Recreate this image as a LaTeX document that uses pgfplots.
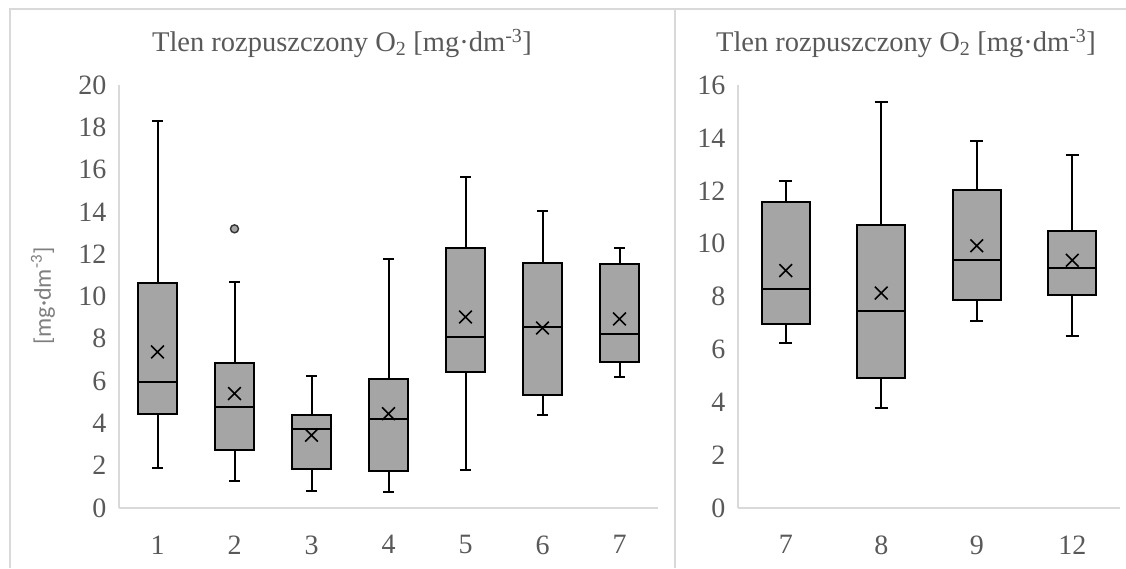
\documentclass[border=0pt]{standalone}
\usepackage{pgfplots}
\pgfplotsset{compat=1.18}
\usepgfplotslibrary{statistics}
\usepackage{fontspec}
\setmainfont{Liberation Serif}
\newfontfamily\labfont{Carlito}
\definecolor{boxgray}{HTML}{A5A5A5}
\definecolor{axisgray}{HTML}{D9D9D9}
\definecolor{txtgray}{HTML}{595959}
\definecolor{labgray}{HTML}{7F7F7F}
\pgfplotsset{
  myaxis/.style={
    scale only axis,
    anchor=south west,
    height=423pt,
    boxplot/draw direction=y,
    axis x line*=bottom,
    axis y line*=left,
    axis line style={draw=axisgray, line width=1.2pt, -},
    major tick length=0pt,
    /pgf/number format/assume math mode=true,
    ticklabel style={font=\fontsize{28}{28}\selectfont, text=txtgray},
    yticklabel style={xshift=-9pt},
    xticklabel style={yshift=-24pt},
    clip=false,
  },
  bx/.style={boxplot prepared={draw position=#1, box extend=0.5, whisker extend=0.14},
    draw=black, fill=boxgray, line width=2pt, solid},
  meanx/.style={only marks, mark=x, mark size=9pt, mark options={line width=1.6pt, draw=black}},
}
\begin{document}
\begin{tikzpicture}
\useasboundingbox (0,0) rectangle (1126pt,568pt);
% chart area frames
\draw[axisgray, line width=1.2pt] (10pt,0pt) -- (10pt,559pt) -- (1126pt,559pt);
\draw[axisgray, line width=1.2pt] (675pt,0pt) -- (675pt,559pt);
% left panel
\begin{axis}[myaxis, at={(119pt,60pt)}, width=539pt,
  xmin=0.5, xmax=7.5, ymin=0, ymax=20,
  xtick={1,...,7}, ytick={0,2,...,20}]
\addplot[bx=1, boxplot prepared={lower whisker=1.89, lower quartile=4.46, median=5.96, upper quartile=10.66, upper whisker=18.3}] coordinates {};
\addplot[bx=2, boxplot prepared={lower whisker=1.28, lower quartile=2.76, median=4.78, upper quartile=6.86, upper whisker=10.7},
  mark=*, mark size=4pt, mark options={fill=boxgray, draw=black!80, line width=1.4pt}] coordinates {(0,13.2)};
\addplot[bx=3, boxplot prepared={lower whisker=0.82, lower quartile=1.86, median=3.75, upper quartile=4.38, upper whisker=6.26}] coordinates {};
\addplot[bx=4, boxplot prepared={lower whisker=0.74, lower quartile=1.74, median=4.19, upper quartile=6.12, upper whisker=11.76}] coordinates {};
\addplot[bx=5, boxplot prepared={lower whisker=1.78, lower quartile=6.43, median=8.07, upper quartile=12.31, upper whisker=15.64}] coordinates {};
\addplot[bx=6, boxplot prepared={lower whisker=4.38, lower quartile=5.36, median=8.56, upper quartile=11.6, upper whisker=14.03}] coordinates {};
\addplot[bx=7, boxplot prepared={lower whisker=6.18, lower quartile=6.9, median=8.21, upper quartile=11.52, upper whisker=12.31}] coordinates {};
\addplot[meanx] coordinates {(1,7.38) (2,5.41) (3,3.44) (4,4.46) (5,9.03) (6,8.51) (7,8.94)};
\end{axis}
% right panel
\begin{axis}[myaxis, at={(738pt,60pt)}, width=382pt,
  xmin=0.5, xmax=4.5, ymin=0, ymax=16,
  xtick={1,2,3,4}, xticklabels={7,8,9,12}, ytick={0,2,...,16}]
\addplot[bx=1, boxplot prepared={lower whisker=6.24, lower quartile=6.97, median=8.30, upper quartile=11.56, upper whisker=12.35}] coordinates {};
\addplot[bx=2, boxplot prepared={lower whisker=3.79, lower quartile=4.91, median=7.45, upper quartile=10.71, upper whisker=15.36}] coordinates {};
\addplot[bx=3, boxplot prepared={lower whisker=7.06, lower quartile=7.86, median=9.37, upper quartile=12.04, upper whisker=13.88}] coordinates {};
\addplot[bx=4, boxplot prepared={lower whisker=6.49, lower quartile=8.07, median=9.09, upper quartile=10.49, upper whisker=13.35}] coordinates {};
\addplot[meanx] coordinates {(1,8.98) (2,8.13) (3,9.92) (4,9.37)};
\end{axis}
% titles and label
\node[text=txtgray, font=\fontsize{28.5}{28.5}\selectfont] at (342pt,525pt) {Tlen rozpuszczony O\textsubscript{2} [mg·dm\textsuperscript{-3}]};
\node[text=txtgray, font=\fontsize{28.5}{28.5}\selectfont] at (906pt,525pt) {Tlen rozpuszczony O\textsubscript{2} [mg·dm\textsuperscript{-3}]};
\node[rotate=90, text=labgray, font=\labfont\fontsize{24}{24}\selectfont] at (43pt,272pt) {[mg·dm\textsuperscript{-3}]};
\end{tikzpicture}
\end{document}
